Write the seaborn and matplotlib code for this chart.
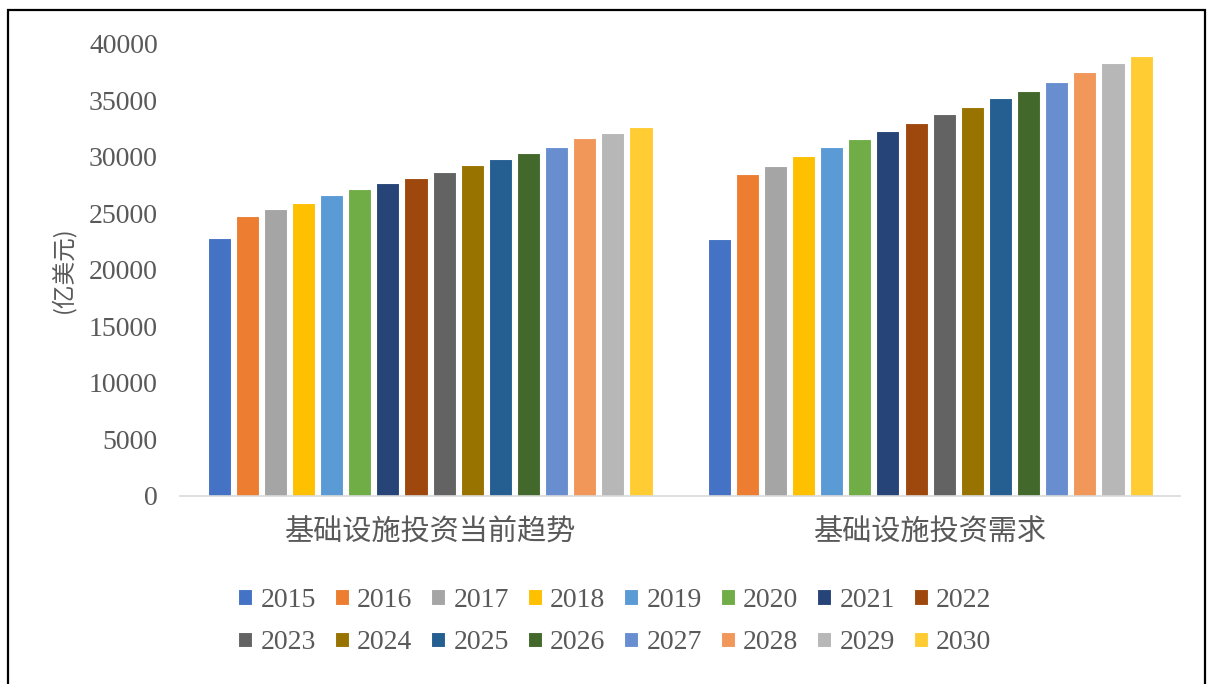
import matplotlib
matplotlib.use("Agg")
import matplotlib.pyplot as plt
import seaborn as sns
import pandas as pd
from matplotlib.patches import Rectangle

categories = ["基础设施投资当前趋势", "基础设施投资需求"]
years = [str(y) for y in range(2015, 2031)]
trend = [22800, 24800, 25350, 25950, 26580, 27110, 27640, 28140,
         28670, 29260, 29790, 30320, 30830, 31620, 32120, 32630]
demand = [22750, 28520, 29170, 30060, 30830, 31590, 32240, 33010,
          33780, 34400, 35190, 35810, 36580, 37490, 38260, 38910]
colors = ["#4472C4", "#ED7D31", "#A5A5A5", "#FFC000", "#5B9BD5", "#70AD47",
          "#264478", "#9E480E", "#636363", "#997300", "#255E91", "#43682B",
          "#698ED0", "#F1975A", "#B7B7B7", "#FFCD33"]
ylabel = "(亿美元)"

df = pd.DataFrame({
    "category": [categories[0]] * len(years) + [categories[1]] * len(years),
    "year": years + years,
    "value": trend + demand,
})

sns.set_style("white")
plt.rcParams["font.family"] = ["Liberation Serif", "Noto Sans CJK SC", "DejaVu Sans"]

fig = plt.figure(figsize=(12.08, 6.84), dpi=100)
ax = fig.add_axes([0.149, 0.275, 0.828, 0.661])

sns.barplot(data=df, x="category", y="value", hue="year", order=categories,
            hue_order=years, palette=colors, saturation=1, width=0.9, gap=0.18,
            edgecolor="white", linewidth=0.8, ax=ax, legend=True)

ax.set_ylim(0, 40000)
ax.set_xlim(-0.5, 1.5)
ax.set_yticks(range(0, 40001, 5000))
ax.set_xlabel("")
ax.set_ylabel(ylabel, fontsize=17, color="#595959", labelpad=10,
              family=["Noto Sans CJK SC", "DejaVu Sans"])
ax.tick_params(axis="y", labelsize=20, colors="#595959", length=0, pad=16)
ax.tick_params(axis="x", labelsize=20, colors="#595959", length=0, pad=16)
for lab in ax.get_xticklabels():
    lab.set_family(["Noto Sans CJK SC", "DejaVu Sans"])
    lab.set_fontsize(21)

for s in ["top", "right", "left"]:
    ax.spines[s].set_visible(False)
ax.spines["bottom"].set_color("#D9D9D9")
ax.spines["bottom"].set_linewidth(1.2)
ax.grid(False)

handles, labels = ax.get_legend_handles_labels()
ax.get_legend().remove()
order = []
for i in range(8):
    order += [i, i + 8]
handles = [handles[i] for i in order]
labels = [labels[i] for i in order]
leg = fig.legend(handles, labels, loc="center", bbox_to_anchor=(0.509, 0.091),
                 ncol=8, frameon=False, fontsize=20, handlelength=0.5,
                 handleheight=0.5, handletextpad=0.3, columnspacing=0.68,
                 labelspacing=0.62, borderpad=0)
for t in leg.get_texts():
    t.set_color("#595959")

fig.patches.append(Rectangle((8 / 1208, -0.02), 1197 / 1208, 1.0 - 10 / 684 + 0.02,
                             transform=fig.transFigure, fill=False,
                             edgecolor="black", linewidth=1.6))

fig.savefig("out.png", dpi=100)
